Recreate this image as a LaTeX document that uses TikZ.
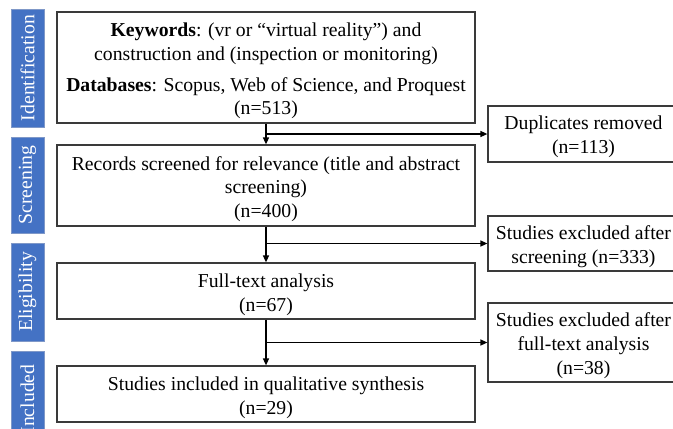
\documentclass[tikz,border=0pt]{standalone}
\usepackage{fontspec}
\setmainfont{Liberation Serif}
\usetikzlibrary{arrows.meta}
\definecolor{barblue}{HTML}{4472C4}
\definecolor{barline}{HTML}{7F98C8}
\definecolor{boxline}{HTML}{3A3A3A}
\tikzset{
  mainbox/.style={draw=boxline, line width=1.2pt, fill=white, minimum width=418pt, inner sep=0pt},
  sidebox/.style={draw=boxline, line width=1.2pt, fill=white, minimum width=191pt, inner sep=0pt},
  boxtext/.style={align=center, inner sep=0pt, font=\fontsize{19.7pt}{23.7pt}\selectfont},
  phase/.style={draw=barline, line width=1pt, fill=barblue, text=white, minimum height=33pt, inner sep=0pt,
    rotate=90, font=\fontsize{19.7pt}{23.5pt}\selectfont},
  flow/.style={line width=1.4pt, -{Triangle[length=7pt,width=6pt]}}
}
\begin{document}
\begin{tikzpicture}[x=1pt,y=-1pt]
\useasboundingbox (0,0) rectangle (673,429);
\clip (0,0) rectangle (673,429);
% phase bars
\node[phase, minimum width=118pt] (p1) at (27.5,68) {Identification};
\node[phase, minimum width=96pt] (p2) at (27.5,185) {Screening};
\node[phase, minimum width=98pt] (p3) at (27.5,292) {Eligibility};
\node[phase, minimum width=96pt] (p4) at (27.5,399) {Included};
% main boxes
\node[mainbox, minimum height=111pt] (b1) at (266,67.5) {};
\node[mainbox, minimum height=81pt] (b2) at (266,185.5) {};
\node[mainbox, minimum height=56pt] (b3) at (266,291) {};
\node[mainbox, minimum height=56pt] (b4) at (266,394) {};
\node[boxtext] (t1) at ([yshift=-3.5pt]b1.center) {\textbf{Keywords}: (vr or “virtual reality”) and\\ construction and (inspection or monitoring)\\[7pt] \textbf{Databases}: Scopus, Web of Science, and Proquest\\ (n=513)};
\node[boxtext] (t2) at ([yshift=-3.5pt]b2.center) {Records screened for relevance (title and abstract\\ screening)\\ (n=400)};
\node[boxtext] (t3) at ([yshift=-3.5pt]b3.center) {Full-text analysis\\ (n=67)};
\node[boxtext] (t4) at ([yshift=-3.5pt]b4.center) {Studies included in qualitative synthesis\\ (n=29)};
% side boxes
\node[sidebox, minimum height=56pt] (r1) at (583.5,134) {};
\node[sidebox, minimum height=55pt] (r2) at (583.5,243.5) {};
\node[sidebox, minimum height=79pt] (r3) at (583.5,342.5) {};
\node[boxtext] (s1) at ([yshift=-3pt]r1.center) {Duplicates removed\\ (n=113)};
\node[boxtext] (s2) at ([yshift=-3pt]r2.center) {Studies excluded after\\ screening (n=333)};
\node[boxtext] (s3) at ([yshift=-3pt]r3.center) {Studies excluded after\\ full-text analysis\\ (n=38)};
% connectors
\coordinate (j1) at (b1.south |- r1.west);
\coordinate (j2) at (b2.south |- r2.west);
\coordinate (j3) at (b3.south |- r3.west);
\draw[flow] (b1.south) -- (b2.north);
\draw[flow] (b2.south) -- (b3.north);
\draw[flow] (b3.south) -- (b4.north);
\draw[flow] (j1) -- (r1.west);
\draw[flow] (j2) -- (r2.west);
\draw[flow] (j3) -- (r3.west);
\end{tikzpicture}
\end{document}
